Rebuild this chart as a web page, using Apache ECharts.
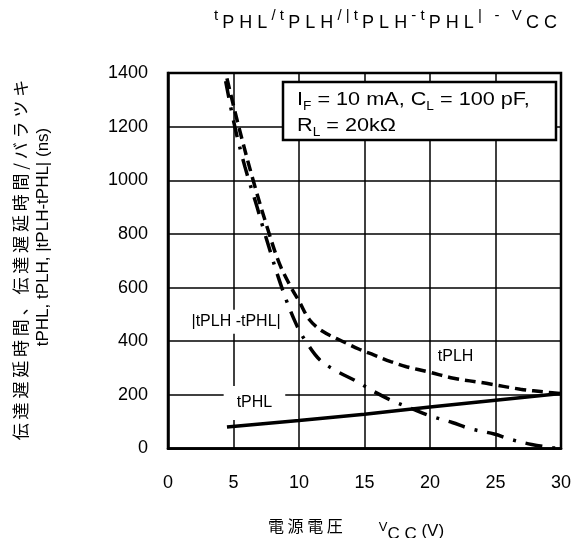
<!DOCTYPE html>
<html><head><meta charset="utf-8">
<script src="https://cdn.jsdelivr.net/npm/echarts@6/dist/echarts.min.js"></script>
<style>html,body{margin:0;padding:0;background:#fff}#c{width:579px;height:538px}</style>
</head><body><div id="c"></div>
<script>
// ---- data ----
const vccPHL = [4.5, 10, 15, 20, 25, 30];
const tPHL   = [80, 104, 128, 155, 180, 205];

const vccPLH = [4.5, 5.4, 6.5, 7.6, 8.5, 9.4, 10, 10.8, 11.8, 13.3, 14.6, 15.7, 17, 18.2, 20, 21.8, 24.3, 26.9, 28.9, 30];
const tPLH   = [1380, 1200, 1000, 820, 690, 600, 550, 480, 437, 400, 370, 349, 324, 305, 284, 262, 243, 221, 210, 205];

const vccDiff = [4.4, 5.1, 5.88, 6.8, 7.4, 8.68, 9.82, 10.65, 11.6, 12.94, 14.33, 15.73, 17.12, 18.6, 20.05, 21.7, 23.05, 24.9, 26.16, 27.76, 29.3, 30];
const tDiff   = [1370, 1200, 1049, 900, 800, 601, 460, 390, 330, 287, 252, 212, 178, 149, 121, 97, 74, 54, 34, 15, 3, 0];

const xMin = 0, xMax = 30, xStep = 5;
const yMin = 0, yMax = 1400, yStep = 200;

const labelPHL  = {text: 'tPHL', at: [6.6, 170]};
const labelPLH  = {text: 'tPLH', at: [21.95, 341]};
const labelDiff = {text: '|tPLH -tPHL|', at: [5.2, 473]};

const FONT = "'Liberation Sans', Arial, 'Noto Sans CJK JP', sans-serif";
const CJK = "'Noto Sans CJK JP', 'Liberation Sans', sans-serif";

function pairs(xs, ys) { return xs.map((x, i) => [x, ys[i]]); }

const chart = echarts.init(document.getElementById('c'), null, {renderer: 'canvas'});

function mp(lbl, pad) {
  return {
    silent: true, symbol: 'circle', symbolSize: 0, animation: false,
    data: [{coord: lbl.at, value: lbl.text}],
    label: {show: true, position: 'inside', formatter: lbl.text, color: '#000',
            fontFamily: FONT, fontSize: 16, backgroundColor: '#fff', padding: pad}
  };
}

const option = {
  animation: false,
  backgroundColor: '#fff',
  grid: {left: 168, right: 18, top: 73, bottom: 89.5, show: true, borderColor: '#000', borderWidth: 2.5, backgroundColor: 'transparent'},
  xAxis: {
    type: 'value', min: xMin, max: xMax, interval: xStep,
    axisLine: {show: true, lineStyle: {color: '#000', width: 2.5}},
    axisTick: {show: false},
    splitLine: {show: true, lineStyle: {color: '#000', width: 1.5}},
    axisLabel: {color: '#000', fontFamily: FONT, fontSize: 18, margin: 26, formatter: v => String(v)}
  },
  yAxis: {
    type: 'value', min: yMin, max: yMax, interval: yStep,
    axisLine: {show: true, lineStyle: {color: '#000', width: 2.5}},
    axisTick: {show: false},
    splitLine: {show: true, lineStyle: {color: '#000', width: 1.5}},
    axisLabel: {color: '#000', fontFamily: FONT, fontSize: 18, margin: 20, formatter: v => String(v)}
  },
  series: [
    {
      name: 'tPHL', type: 'line', data: pairs(vccPHL, tPHL), showSymbol: false,
      lineStyle: {color: '#000', width: 3.5, type: 'solid'}, z: 3,
      markPoint: mp(labelPHL, [10, 13, 8, 13])
    },
    {
      name: 'tPLH', type: 'line', data: pairs(vccPLH, tPLH), showSymbol: false, smooth: 0.35,
      lineStyle: {color: '#000', width: 3.5, type: [11, 6]}, z: 3,
      markPoint: mp(labelPLH, [2, 2])
    },
    {
      name: '|tPLH-tPHL|', type: 'line', data: pairs(vccDiff, tDiff), showSymbol: false, smooth: 0.35,
      lineStyle: {color: '#000', width: 3.5, type: [17, 10, 3, 10]}, z: 3,
      markPoint: mp(labelDiff, [4, 2])
    }
  ],
  graphic: [
    // title
    {
      type: 'text', x: 214, y: 8, z: 10,
      style: {
        text: '{n|t }{s|P H L}{n| / t }{s|P L H}{n| / | t }{s|P L H}{n| - t }{s|P H L}{n| |   -   V }{s|C C}',
        rich: {
          n: {fontFamily: FONT, fontSize: 15, lineHeight: 18, verticalAlign: 'top', fill: '#000'},
          s: {fontFamily: FONT, fontSize: 18, lineHeight: 18, padding: [6, 0, 0, 0], verticalAlign: 'top', fill: '#000'}
        },
        fill: '#000'
      }
    },
    // y axis name, line 1
    {
      type: 'text', x: 21, y: 260, rotation: Math.PI / 2, z: 10,
      style: {
        text: '伝 達 遅 延 時 間 、 伝 達 遅 延 時 間 / バ ラ ツ キ',
        font: '17px ' + CJK, fill: '#000',
        align: 'center', verticalAlign: 'middle', textAlign: 'center', textVerticalAlign: 'middle'
      }
    },
    // y axis name, line 2
    {
      type: 'text', x: 43, y: 237, rotation: Math.PI / 2, z: 10,
      style: {
        text: 'tPHL, tPLH, |tPLH-tPHL| (ns)',
        font: '17px ' + FONT, fill: '#000',
        align: 'center', verticalAlign: 'middle', textAlign: 'center', textVerticalAlign: 'middle'
      }
    },
    // x axis name
    {
      type: 'text', x: 268, y: 516, z: 10,
      style: {
        text: '{c|電 源 電 圧}{n|V}{s|C C}{p| (V)}',
        rich: {
          c: {fontFamily: CJK, fontSize: 16, lineHeight: 20, verticalAlign: 'top', padding: [2, 0, 0, 0], fill: '#000'},
          n: {fontFamily: FONT, fontSize: 13, lineHeight: 16, verticalAlign: 'top', padding: [5, 0, 0, 36], fill: '#000'},
          s: {fontFamily: FONT, fontSize: 17, lineHeight: 18, verticalAlign: 'top', padding: [10, 0, 0, 0], fill: '#000'},
          p: {fontFamily: FONT, fontSize: 17, lineHeight: 18, verticalAlign: 'top', padding: [7, 0, 0, 0], fill: '#000'}
        },
        fill: '#000'
      }
    },
    // conditions box
    {
      type: 'rect', z: 10,
      shape: {x: 283, y: 82, width: 273, height: 58},
      style: {fill: '#fff', stroke: '#000', lineWidth: 2.5}
    },
    {
      type: 'text', x: 297, y: 87, z: 11, scaleX: 1.14,
      style: {
        text: '{n|I}{b|F}{n| = 10 mA, C}{b|L}{n| = 100 pF,}\n{n|R}{b|L}{n| = 20kΩ}',
        rich: {
          n: {fontFamily: FONT, fontSize: 19, lineHeight: 26, fill: '#000'},
          b: {fontFamily: FONT, fontSize: 12, lineHeight: 26, verticalAlign: 'bottom', fill: '#000'}
        },
        fill: '#000'
      }
    }
  ]
};
chart.setOption(option);
</script>
</body></html>
